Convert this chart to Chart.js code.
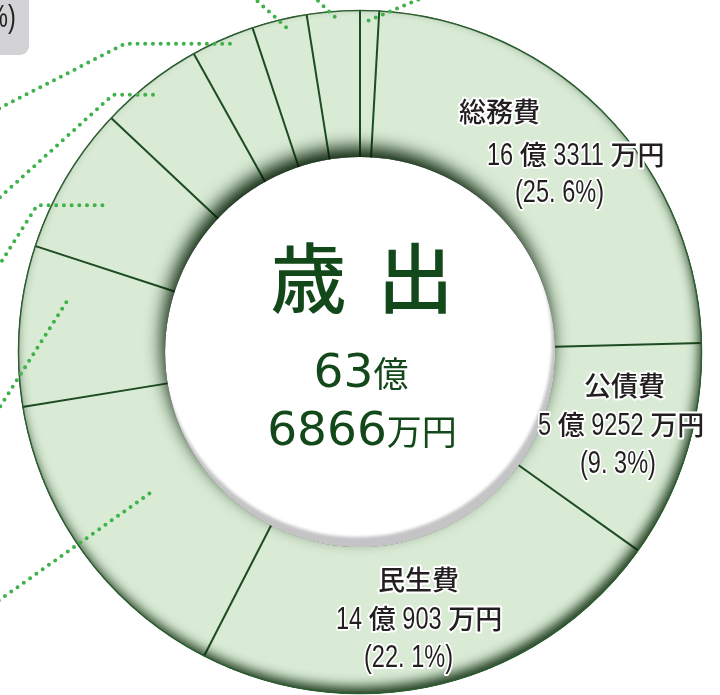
<!DOCTYPE html>
<html lang="ja">
<head>
<meta charset="utf-8">
<script src="https://cdn.jsdelivr.net/npm/chart.js@4/dist/chart.umd.min.js"></script>
<style>
  html, body { margin: 0; padding: 0; background: #fff; overflow: hidden; }
  body { width: 720px; height: 695px; position: relative; }
  #wrap { position: absolute; left: 0; top: 0; width: 720px; height: 704px; }
</style>
</head>
<body>
<div id="wrap"><canvas id="donut" width="720" height="704"></canvas></div>
<script>
// 費目（上から時計回り）
const categories = ["予備費", "総務費", "公債費", "民生費", "教育費", "土木費", "衛生費", "消防費", "農林水産業費", "商工費", "議会費"];
// 円グラフ上の構成比（％、図から読み取り）
const shares = [0.9, 23.7, 10.3, 22.7, 14.9, 7.6, 7.0, 4.9, 3.0, 2.6, 2.5];

// 図中に表示されている費目ラベル
const labelNames = ["総務費", "公債費", "民生費"];
const labelAmounts = ["16 億 3311 万円", "5 億 9252 万円", "14 億 903 万円"];
const labelPercents = ["(25. 6%)", "(9. 3%)", "(22. 1%)"];

// 中央の合計
const totalTitle = ["歳", "出"];
const totalLines = ["63億", "6866万円"];

// ラベルの配置（左端x, ベースラインy）
const labelLayout = [
    [[459, 122], [487, 165], [515, 202]],
    [[584, 396], [538, 435], [580, 473]],
    [[378, 590], [336, 629], [364, 667]],
];

// 引き出し線（費目番号、弧上の位置t、半径方向の位置f、折れ点）
const leaders = [
    { seg: 0, t: 0.46, f: 0.93, path: [[422, -2]] },
    { seg: 10, t: 0.52, f: 0.96, path: [[315, -2]] },
    { seg: 9, t: 0.59, f: 0.94, path: [[254, -2]] },
    { seg: 8, t: 0.58, f: 0.95, path: [[125, null], [-2, 109]] },
    { seg: 7, t: 0.45, f: 0.92, path: [[113, null], [-2, 199]] },
    { seg: 6, t: 0.46, f: 0.69, path: [[37, null], [-2, 267]] },
    { seg: 5, t: 0.69, f: 0.70, path: [[-2, 410]] },
    { seg: 4, t: 0.54, f: 0.40, path: [[-2, 601]] },
];

const RING = "#d9ebd5";
const DIVIDER = "#1d4b22";
const DOT = "#3fb24c";
const CENTER_GREEN = "#12481a";
const TEXT = "#231f20";

function isCJK(ch) {
    return /[\u3000-\u9fff\uff00-\uffef]/.test(ch);
}

// 和文と欧文を別フォントで描く
function drawMixed(ctx, text, x, y, opt) {
    const runs = [];
    for (const ch of text) {
        const c = isCJK(ch);
        if (runs.length && runs[runs.length - 1].cjk === c) runs[runs.length - 1].s += ch;
        else runs.push({ cjk: c, s: ch });
    }
    ctx.save();
    ctx.textBaseline = "alphabetic";
    ctx.textAlign = "left";
    runs.forEach((r) => {
        ctx.font = r.cjk ? opt.cjkFont : opt.latinFont;
        r.w = ctx.measureText(r.s).width * (r.cjk ? 1 : opt.sx);
    });
    const total = runs.reduce((a, r) => a + r.w, 0);
    let start = opt.align === "center" ? x - total / 2 : x;
    const passes = opt.halo ? ["halo", "fill"] : ["fill"];
    passes.forEach((pass) => {
        let cx = start;
        runs.forEach((r) => {
            ctx.save();
            ctx.translate(cx, y);
            ctx.font = r.cjk ? opt.cjkFont : opt.latinFont;
            if (!r.cjk) ctx.scale(opt.sx, 1);
            if (pass === "halo") {
                ctx.strokeStyle = "#fff";
                ctx.lineWidth = opt.halo;
                ctx.lineJoin = "round";
                ctx.strokeText(r.s, 0, 0);
            } else {
                ctx.fillStyle = opt.color;
                ctx.fillText(r.s, 0, 0);
            }
            ctx.restore();
            cx += r.w;
        });
    });
    ctx.restore();
}

const labelStyle = {
    cjkFont: '500 27px "Noto Sans CJK JP"',
    latinFont: '31px "Liberation Sans"',
    sx: 0.76,
    color: TEXT,
    halo: 4,
};

// リングの立体感・仕切り線・引き出し線・文字
const ringDecor = {
    id: "ringDecor",
    afterDatasetsDraw(chart) {
        const ctx = chart.ctx;
        const arcs = chart.getDatasetMeta(0).data;
        const { x, y, innerRadius: ri, outerRadius: ro } = arcs[0];

        // 仕切り線
        ctx.save();
        ctx.strokeStyle = DIVIDER;
        ctx.lineWidth = 2;
        arcs.forEach((a) => {
            const ang = a.startAngle;
            ctx.beginPath();
            ctx.moveTo(x + Math.cos(ang) * ri, y + Math.sin(ang) * ri);
            ctx.lineTo(x + Math.cos(ang) * ro, y + Math.sin(ang) * ro);
            ctx.stroke();
        });
        ctx.restore();

        // リング内の影
        ctx.save();
        ctx.beginPath();
        ctx.arc(x, y, ro, 0, Math.PI * 2);
        ctx.arc(x, y, ri, 0, Math.PI * 2, true);
        ctx.clip();
        ctx.fillStyle = "#000";
        ctx.shadowColor = "rgba(5,30,5,0.97)";
        ctx.shadowBlur = 17;
        ctx.shadowOffsetX = -3;
        ctx.shadowOffsetY = -10;
        ctx.beginPath();
        ctx.arc(x, y, ri, 0, Math.PI * 2);
        ctx.fill();
        ctx.shadowColor = "rgba(10,40,10,0.9)";
        ctx.shadowBlur = 12;
        ctx.shadowOffsetX = -3;
        ctx.shadowOffsetY = -7;
        ctx.beginPath();
        ctx.rect(-2000, -2000, 5000, 5000);
        ctx.arc(x, y, ro, 0, Math.PI * 2, true);
        ctx.fill("evenodd");
        ctx.restore();

        // 穴の内側の灰色の縁
        ctx.save();
        ctx.beginPath();
        ctx.arc(x, y, ri, 0, Math.PI * 2);
        ctx.clip();
        ctx.filter = "blur(1.5px)";
        ctx.fillStyle = "#c4c4c6";
        ctx.beginPath();
        ctx.arc(x, y, ri + 3, 0, Math.PI * 2);
        ctx.arc(x - 3, y - 10, ri, 0, Math.PI * 2, true);
        ctx.fill("evenodd");
        ctx.restore();

        // 外周線
        ctx.save();
        ctx.strokeStyle = "#2c5e30";
        ctx.lineWidth = 1.5;
        ctx.beginPath();
        ctx.arc(x, y, ro - 0.5, 0, Math.PI * 2);
        ctx.stroke();
        ctx.restore();
    },
    afterDraw(chart) {
        const ctx = chart.ctx;
        const arcs = chart.getDatasetMeta(0).data;
        const { x, y, innerRadius: ri, outerRadius: ro } = arcs[0];

        // 引き出し線（点線）
        ctx.save();
        ctx.strokeStyle = DOT;
        ctx.lineWidth = 4;
        ctx.lineCap = "round";
        ctx.lineJoin = "round";
        ctx.setLineDash([0, 7.7]);
        leaders.forEach((l) => {
            const a = arcs[l.seg];
            const ang = a.startAngle + (a.endAngle - a.startAngle) * l.t;
            const r = ri + (ro - ri) * l.f;
            let px = x + Math.cos(ang) * r;
            let py = y + Math.sin(ang) * r;
            ctx.beginPath();
            ctx.moveTo(px, py);
            l.path.forEach(([qx, qy]) => {
                px = qx;
                py = qy === null ? py : qy;
                ctx.lineTo(px, py);
            });
            ctx.stroke();
        });
        ctx.restore();

        // 左上の切れたラベル枠
        ctx.save();
        ctx.fillStyle = "#d3d3d5";
        ctx.beginPath();
        ctx.roundRect(-12, -12, 41, 67, 9);
        ctx.fill();
        ctx.restore();
        drawMixed(ctx, "%)", -13, 27, Object.assign({}, labelStyle, { halo: 0 }));

        // 費目ラベル
        labelNames.forEach((name, i) => {
            const lay = labelLayout[i];
            drawMixed(ctx, name, lay[0][0], lay[0][1], labelStyle);
            drawMixed(ctx, labelAmounts[i], lay[1][0], lay[1][1], labelStyle);
            drawMixed(ctx, labelPercents[i], lay[2][0], lay[2][1], labelStyle);
        });

        // 中央の文字
        ctx.save();
        ctx.fillStyle = CENTER_GREEN;
        ctx.font = '500 76px "Noto Sans CJK JP"';
        ctx.textAlign = "center";
        ctx.textBaseline = "alphabetic";
        const pitch = 107;
        totalTitle.forEach((ch, i) => {
            ctx.fillText(ch, x - pitch / 2 + i * pitch + 2, 307);
        });
        ctx.restore();
        const centerStyle = {
            cjkFont: '35px "Noto Sans CJK JP"',
            latinFont: '47px "DejaVu Sans"',
            sx: 1,
            color: CENTER_GREEN,
            halo: 0,
            align: "center",
        };
        drawMixed(ctx, totalLines[0], x + 1, 387, centerStyle);
        drawMixed(ctx, totalLines[1], x + 2, 445, centerStyle);
    },
};

const ctx = document.getElementById("donut").getContext("2d");
new Chart(ctx, {
    type: "doughnut",
    data: {
        labels: categories,
        datasets: [
            {
                data: shares,
                backgroundColor: RING,
                borderWidth: 0,
                hoverOffset: 0,
            },
        ],
    },
    options: {
        responsive: false,
        animation: false,
        cutout: "57%",
        radius: 342,
        plugins: {
            legend: { display: false },
            tooltip: { enabled: false },
        },
        events: [],
    },
    plugins: [ringDecor],
});
</script>
</body>
</html>
